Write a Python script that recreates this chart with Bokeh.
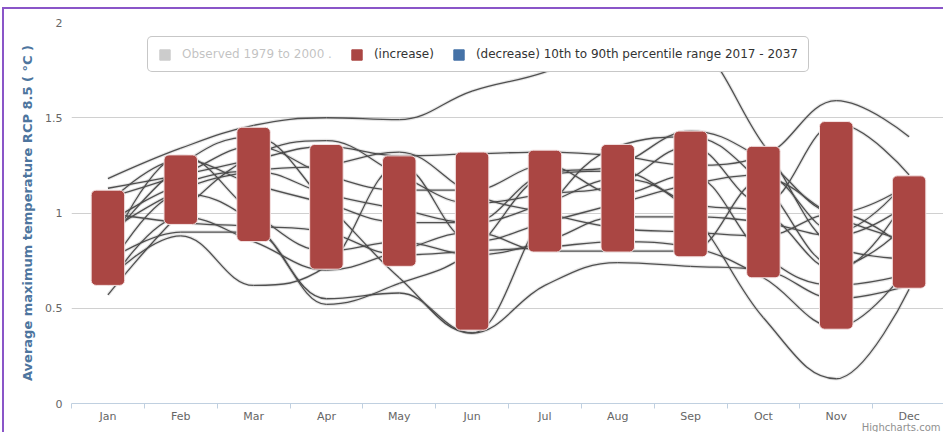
import numpy as np
from bokeh.plotting import figure
from bokeh.models import (Range1d, FixedTicker, Legend, LegendItem, Title,
                          ColumnDataSource)
from bokeh.embed import file_html
from bokeh.resources import INLINE

# ---------------- data ----------------
months = ["Jan", "Feb", "Mar", "Apr", "May", "Jun",
          "Jul", "Aug", "Sep", "Oct", "Nov", "Dec"]

# 10th to 90th percentile range 2017 - 2037 (increase)
bar_low = [0.62, 0.94, 0.85, 0.705, 0.72, 0.385, 0.795, 0.795, 0.77, 0.66, 0.39, 0.605]
bar_high = [1.12, 1.305, 1.45, 1.36, 1.30, 1.32, 1.33, 1.36, 1.43, 1.35, 1.48, 1.195]

# individual model runs (grey splines)
run_01 = [1.18, 1.34, 1.46, 1.50, 1.49, 1.64, 1.74, 1.90, 1.88, 1.36, 0.82, 0.76]
run_02 = [1.13, 1.20, 1.28, 1.35, 1.30, 1.31, 1.32, 1.30, 1.25, 1.30, 1.59, 1.40]
run_03 = [0.95, 1.15, 1.22, 1.10, 1.02, 0.95, 1.05, 1.18, 1.00, 0.45, 0.13, 0.60]
run_04 = [0.85, 1.25, 1.40, 1.05, 0.66, 0.37, 0.62, 0.74, 0.72, 0.70, 0.55, 0.62]
run_05 = [0.70, 1.10, 0.95, 0.55, 0.58, 0.37, 1.00, 1.35, 1.40, 1.15, 0.72, 0.95]
run_06 = [0.57, 1.00, 1.30, 1.38, 1.20, 1.05, 1.10, 1.15, 1.35, 1.05, 1.47, 1.20]
run_07 = [1.00, 0.95, 0.93, 0.90, 0.78, 0.80, 0.82, 0.85, 0.82, 0.66, 0.40, 0.72]
run_08 = [0.75, 0.90, 0.90, 0.52, 0.63, 0.80, 1.20, 1.25, 1.43, 1.28, 1.00, 1.15]
run_09 = [0.65, 0.88, 0.62, 0.72, 1.25, 0.85, 0.95, 1.05, 1.15, 1.20, 0.90, 1.18]
run_10 = [0.80, 1.30, 1.00, 0.80, 0.85, 0.78, 0.85, 0.98, 0.98, 0.95, 0.88, 1.05]
run_11 = [0.90, 1.12, 1.22, 1.25, 1.32, 1.10, 1.00, 0.92, 0.90, 0.88, 1.00, 0.80]
run_12 = [1.05, 1.28, 1.15, 1.05, 0.95, 0.95, 1.20, 1.22, 1.05, 1.00, 0.70, 1.10]
run_13 = [0.62, 0.98, 0.85, 0.70, 0.80, 0.90, 0.80, 0.80, 0.80, 1.18, 0.98, 0.85]
run_14 = [1.08, 1.20, 1.35, 1.20, 1.12, 1.12, 1.25, 1.10, 1.20, 0.78, 0.62, 0.68]
runs = [run_01, run_02, run_03, run_04, run_05, run_06, run_07,
        run_08, run_09, run_10, run_11, run_12, run_13, run_14]

y_ticks = [0, 0.5, 1, 1.5, 2]
y_tick_labels = ["0", "0.5", "1", "1.5", "2"]

legend_labels = ["Observed 1979 to 2000 .", "(increase)",
                 "(decrease) 10th to 90th percentile range 2017 - 2037"]

# ---------------- helpers ----------------
FONT = "DejaVu Sans"
xpos = [i + 0.5 for i in range(len(months))]


def spline_segments(xs, ys, smoothing=1.5):
    """Highcharts-style spline -> cubic bezier segments."""
    n = len(xs)
    lc = [(x, y) for x, y in zip(xs, ys)]
    rc = [(x, y) for x, y in zip(xs, ys)]
    for i in range(1, n - 1):
        x, y = xs[i], ys[i]
        lx, ly = xs[i - 1], ys[i - 1]
        nx, ny = xs[i + 1], ys[i + 1]
        d = smoothing + 1
        lcx, lcy = (smoothing * x + lx) / d, (smoothing * y + ly) / d
        rcx, rcy = (smoothing * x + nx) / d, (smoothing * y + ny) / d
        if rcx != lcx:
            corr = ((rcy - lcy) * (rcx - x)) / (rcx - lcx) + y - rcy
            lcy += corr
            rcy += corr
        if lcy > ly and lcy > y:
            lcy = max(ly, y)
            rcy = 2 * y - lcy
        elif lcy < ly and lcy < y:
            lcy = min(ly, y)
            rcy = 2 * y - lcy
        if rcy > ny and rcy > y:
            rcy = max(ny, y)
            lcy = 2 * y - rcy
        elif rcy < ny and rcy < y:
            rcy = min(ny, y)
            lcy = 2 * y - rcy
        lc[i] = (lcx, lcy)
        rc[i] = (rcx, rcy)
    seg = dict(x0=[], y0=[], x1=[], y1=[], cx0=[], cy0=[], cx1=[], cy1=[])
    for i in range(n - 1):
        seg["x0"].append(xs[i]); seg["y0"].append(ys[i])
        seg["x1"].append(xs[i + 1]); seg["y1"].append(ys[i + 1])
        seg["cx0"].append(rc[i][0]); seg["cy0"].append(rc[i][1])
        seg["cx1"].append(lc[i + 1][0]); seg["cy1"].append(lc[i + 1][1])
    return seg


# ---------------- figure ----------------
W, H = 941, 425
p = figure(width=W, height=H, output_backend="svg", toolbar_location=None,
           x_range=Range1d(0, 12), y_range=Range1d(0, 2),
           min_border_left=67, min_border_right=0,
           min_border_top=13, min_border_bottom=31)
p.styles = {"margin-left": "2px", "margin-top": "7px",
            "border-left": "2px solid #8a55c8",
            "border-top": "2px solid #8a55c8"}
p.outline_line_color = None
p.background_fill_color = "white"
p.border_fill_color = "white"

# grid
p.xgrid.visible = False
p.ygrid.ticker = FixedTicker(ticks=y_ticks)
p.ygrid.grid_line_color = "#d0d0d0"
p.ygrid.grid_line_width = 1

# y axis
yax = p.yaxis[0]
yax.ticker = FixedTicker(ticks=y_ticks)
yax.major_label_overrides = {t: l for t, l in zip(y_ticks, y_tick_labels)}
yax.axis_line_color = None
yax.major_tick_line_color = None
yax.minor_tick_line_color = None
yax.major_tick_out = 0
yax.major_label_standoff = 9
yax.major_label_text_font = FONT
yax.major_label_text_font_size = "11px"
yax.major_label_text_color = "#666666"
yax.axis_label = "Average maximum temperature RCP 8.5 ( °C )"
yax.axis_label_text_font = FONT
yax.axis_label_text_font_size = "13px"
yax.axis_label_text_font_style = "bold"
yax.axis_label_text_color = "#4d759e"
yax.axis_label_standoff = 7

# x axis
xax = p.xaxis[0]
xax.ticker = FixedTicker(ticks=xpos, minor_ticks=list(range(13)))
xax.major_label_overrides = {x: m for x, m in zip(xpos, months)}
xax.axis_line_color = "#c0d0e0"
xax.axis_line_width = 1
xax.major_tick_line_color = None
xax.major_tick_out = 0
xax.major_tick_in = 0
xax.minor_tick_line_color = "#c0d0e0"
xax.minor_tick_out = 5
xax.minor_tick_in = 0
xax.major_label_standoff = 1
xax.major_label_text_font = FONT
xax.major_label_text_font_size = "11px"
xax.major_label_text_color = "#666666"

# model-run splines (drawn behind the bars)
for run in runs:
    seg = spline_segments(xpos, run)
    src = ColumnDataSource(seg)
    p.bezier(x0="x0", y0="y0", x1="x1", y1="y1", cx0="cx0", cy0="cy0",
             cx1="cx1", cy1="cy1", source=src,
             line_color="black", line_alpha=0.10, line_width=3.5)
    p.bezier(x0="x0", y0="y0", x1="x1", y1="y1", cx0="cx0", cy0="cy0",
             cx1="cx1", cy1="cy1", source=src,
             line_color="#505050", line_width=1.3)

# percentile bars
bar_src = ColumnDataSource(dict(x=xpos, bottom=bar_low, top=bar_high))
bar_kwargs = dict(x="x", bottom="bottom", top="top", width=0.46, source=bar_src,
                  fill_color="#aa4643", line_color="#f4e4e4", line_width=1)
try:
    bars = p.vbar(border_radius=5, **bar_kwargs)
except Exception:
    bars = p.vbar(**bar_kwargs)

# legend (placeholder renderers without visible marks)
nan = float("nan")
r_obs = p.vbar(x=[nan], top=[nan], bottom=[nan], width=0.4,
               fill_color="#555555", line_color="#555555")
r_obs.visible = False
r_inc = p.vbar(x=[nan], top=[nan], bottom=[nan], width=0.4,
               fill_color="#aa4643", line_color="#aa4643")
r_dec = p.vbar(x=[nan], top=[nan], bottom=[nan], width=0.4,
               fill_color="#4572a7", line_color="#4572a7")

legend = Legend(items=[LegendItem(label=legend_labels[0], renderers=[r_obs]),
                       LegendItem(label=legend_labels[1], renderers=[r_inc]),
                       LegendItem(label=legend_labels[2], renderers=[r_dec])],
                orientation="horizontal", location=(76, 331),
                click_policy="hide",
                glyph_width=13, glyph_height=13, label_standoff=11,
                spacing=18, padding=10, label_height=11, margin=0,
                label_text_font=FONT, label_text_font_size="12px",
                label_text_color="#333333",
                border_line_color="#909090", border_line_width=1,
                background_fill_color="white", background_fill_alpha=1.0,
                inactive_fill_color="white", inactive_fill_alpha=0.7)
try:
    legend.border_radius = 5
except Exception:
    pass
p.add_layout(legend, "center")

# credits (below the x axis, right aligned)
credit = Title(text="Highcharts.com", align="right", text_font=FONT,
               text_font_size="10px", text_font_style="normal",
               text_color="#909090", standoff=0, offset=0)
try:
    credit.standoff = -11
    credit.offset = 5
except Exception:
    pass
p.add_layout(credit, "below")

open("out.html", "w").write(file_html(p, INLINE))
